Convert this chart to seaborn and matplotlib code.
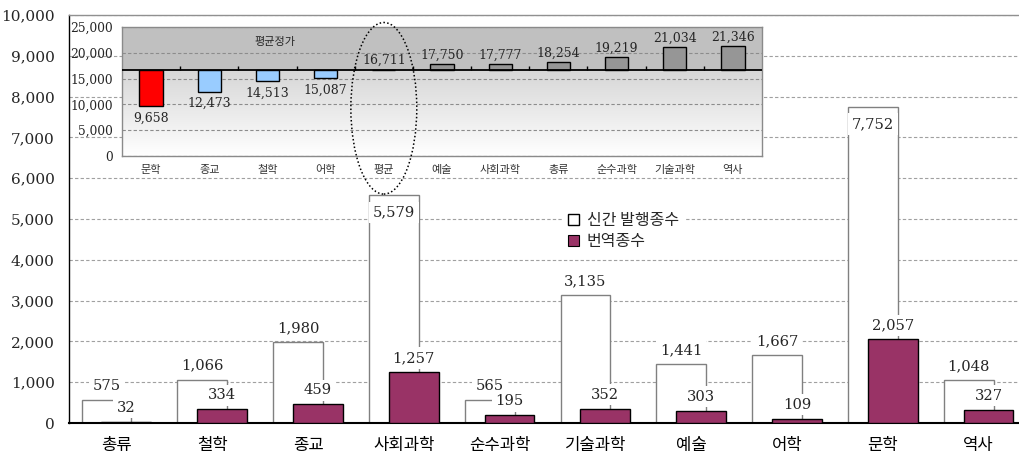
import numpy as np
import pandas as pd
import matplotlib
matplotlib.use("Agg")
import matplotlib.pyplot as plt
import seaborn as sns
from matplotlib.patches import Patch, Ellipse
from matplotlib.colors import LinearSegmentedColormap
from matplotlib.ticker import FixedLocator, FuncFormatter, MultipleLocator

# 분야별 신간 발행종수와 번역종수
fields = ["총류", "철학", "종교", "사회과학", "순수과학", "기술과학", "예술", "어학", "문학", "역사"]
new_titles = [575, 1066, 1980, 5579, 565, 3135, 1441, 1667, 7752, 1048]
translated = [32, 334, 459, 1257, 195, 352, 303, 109, 2057, 327]

# 분야별 평균정가 (원)
price_fields = ["문학", "종교", "철학", "어학", "평균", "예술", "사회과학", "총류", "순수과학", "기술과학", "역사"]
avg_prices = [9658, 12473, 14513, 15087, 16711, 17750, 17777, 18254, 19219, 21034, 21346]
overall_avg = 16711

sns.set_theme(style="white")
plt.rcParams["font.family"] = ["DejaVu Serif", "Noto Sans CJK KR"]
KR = ["Noto Sans CJK KR", "DejaVu Sans"]

W, H = 1019, 461
fig = plt.figure(figsize=(W / 100, H / 100), dpi=100)


def px_axes(left, top, right, bottom):
    return fig.add_axes([left / W, 1 - bottom / H, (right - left) / W, (bottom - top) / H])


# ---------------- main chart ----------------
ax = px_axes(68.5, 15, 1026.5, 423)
df = pd.DataFrame({"field": fields, "new": new_titles, "trans": translated})

BAR_W = 0.52
SHIFT = 0.104
PURPLE = "#993366"

sns.barplot(data=df, x="field", y="new", order=fields, color="white", edgecolor="#808080",
            linewidth=1, width=BAR_W, saturation=1, errorbar=None, ax=ax, zorder=2)
white_bars = list(ax.patches)
sns.barplot(data=df, x="field", y="trans", order=fields, color=PURPLE, edgecolor="black",
            linewidth=1, width=BAR_W, saturation=1, errorbar=None, ax=ax, zorder=3)
purple_bars = [p for p in ax.patches if p not in white_bars]

# overlap the two series: new titles behind-left, translations in front-right
for p in white_bars:
    p.set_x(p.get_x() - SHIFT)
for p in purple_bars:
    p.set_x(p.get_x() + SHIFT)


def label_bars(bars, values, z):
    for p, v in zip(bars, values):
        x = p.get_x() + p.get_width() / 2
        # tall bars carry their label just inside the top edge
        dy = -12.5 if v > 5000 else 10
        ax.annotate(f"{v:,}", (x, v), xytext=(0, dy), textcoords="offset points",
                    ha="center", va="center", fontsize=10.6, zorder=z,
                    bbox=dict(boxstyle="square,pad=0.25", fc="white", ec="none"))


label_bars(white_bars, new_titles, 4)
label_bars(purple_bars, translated, 5)

ax.set_ylim(0, 10000)
ax.set_xlim(-0.5, len(fields) - 0.5)
ax.yaxis.set_major_locator(MultipleLocator(1000))
ax.yaxis.set_major_formatter(FuncFormatter(lambda v, _: f"{int(v):,}"))
ax.set_xlabel("")
ax.set_ylabel("")
ax.set_axisbelow(True)
ax.yaxis.grid(True, linestyle=(0, (3, 2)), color="#a0a0a0", linewidth=0.8)
ax.xaxis.grid(False)

for lab in ax.get_xticklabels():
    lab.set_fontfamily(KR)
    lab.set_fontsize(12)
ax.tick_params(axis="x", which="major", length=0, pad=10, colors="black")
ax.set_xticks(np.arange(0.5, len(fields)), minor=True)
ax.tick_params(axis="x", which="minor", direction="in", length=6, width=1, color="#606060")
ax.tick_params(axis="y", direction="out", length=5, width=1, color="black", labelsize=11, pad=5)

ax.spines["right"].set_visible(False)
ax.spines["top"].set_color("#909090")
ax.spines["top"].set_linewidth(1)
ax.spines["left"].set_color("black")
ax.spines["left"].set_linewidth(1)
ax.spines["bottom"].set_color("black")
ax.spines["bottom"].set_linewidth(1.5)

handles = [Patch(facecolor="white", edgecolor="black", linewidth=1, label="신간 발행종수"),
           Patch(facecolor=PURPLE, edgecolor="black", linewidth=0.8, label="번역종수")]
ax.legend(handles=handles, loc="upper left", bbox_to_anchor=(555 / W, 1 - 199 / H),
          bbox_transform=fig.transFigure, frameon=True, facecolor="white", edgecolor="none",
          framealpha=1, fancybox=False, prop={"family": KR, "size": 11.5},
          handlelength=0.7, handleheight=0.7, handletextpad=0.5, labelspacing=0.25,
          borderpad=0.3)

# ---------------- inset: average price ----------------
axi = px_axes(122, 27, 762, 156)
dfp = pd.DataFrame({"field": price_fields, "price": avg_prices})
dfp["diff"] = dfp["price"] - overall_avg
low = min(avg_prices)
palette = {f: ("#ff0000" if p == low else "#99ccff" if p < overall_avg else "#969696")
           for f, p in zip(price_fields, avg_prices)}

sns.barplot(data=dfp, x="field", y="diff", hue="field", palette=palette, legend=False,
            order=price_fields, hue_order=price_fields, width=0.4, edgecolor="black",
            linewidth=1, saturation=1, errorbar=None, ax=axi, zorder=3)
price_bars = list(axi.patches)

n = len(price_fields)
axi.set_xlim(-0.5, n - 0.5)
axi.set_ylim(-overall_avg, 25000 - overall_avg)

for p in price_bars:
    idx = int(round(p.get_x() + p.get_width() / 2))
    v = avg_prices[idx]
    d = v - overall_avg
    axi.annotate(f"{v:,}", (idx, d), xytext=(0, -8.5 if d < 0 else 6.5), textcoords="offset points",
                 ha="center", va="center", fontsize=9, zorder=6)

# plot-area background: solid band above the average, soft gradient below
grad_cmap = LinearSegmentedColormap.from_list("fade", ["#ffffff", "#d6d6d6"])
axi.imshow(np.linspace(0, 1, 256).reshape(-1, 1), cmap=grad_cmap, origin="lower",
           extent=(-0.5, n - 0.5, -overall_avg, 0), aspect="auto", zorder=0.1)
axi.axhspan(0, 25000 - overall_avg, color="#c0c0c0", zorder=0.2, linewidth=0)
axi.set_xlim(-0.5, n - 0.5)
axi.set_ylim(-overall_avg, 25000 - overall_avg)

price_ticks = np.arange(0, 25001, 5000)
axi.yaxis.set_major_locator(FixedLocator(price_ticks - overall_avg))
axi.yaxis.set_major_formatter(FuncFormatter(lambda v, _: f"{int(round(v + overall_avg)):,}"))
axi.set_axisbelow(True)
axi.yaxis.grid(True, linestyle=(0, (3, 2)), color="#8c8c8c", linewidth=0.8)
axi.xaxis.grid(False)
axi.axhline(0, color="black", linewidth=1.3, zorder=4)
axi.vlines(np.arange(0.5, n - 1), 0, 700, color="black", linewidth=1, zorder=4)

axi.set_xlabel("")
axi.set_ylabel("")
for lab in axi.get_xticklabels():
    lab.set_fontfamily(KR)
    lab.set_fontsize(8)
    lab.set_color("#333333")
axi.tick_params(axis="x", length=0, pad=6.5)
axi.tick_params(axis="y", length=0, pad=6.5, labelsize=8.8)
for s in axi.spines.values():
    s.set_color("#8a8a8a")
    s.set_linewidth(1)

axi.text(0.239, 0.884, "평균정가", transform=axi.transAxes, ha="center", va="center",
         fontsize=8, family=KR, zorder=6)
axi.add_patch(Ellipse((4.5 / n, 0.37), 0.103, 1.33, transform=axi.transAxes, fill=False,
                      linestyle=(0, (1, 1.5)), linewidth=1.1, edgecolor="black",
                      clip_on=False, zorder=7))

fig.savefig("out.png", dpi=100)
